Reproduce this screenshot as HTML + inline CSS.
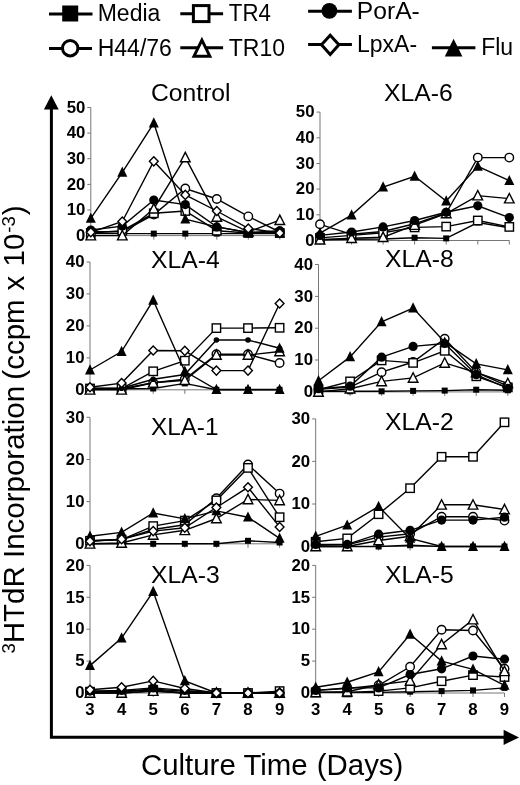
<!DOCTYPE html>
<html><head><meta charset="utf-8"><title>Chart</title>
<style>html,body{margin:0;padding:0;background:#fff}svg{display:block;will-change:transform;filter:grayscale(1)}</style></head>
<body>
<svg width="520" height="785" viewBox="0 0 520 785">
<rect width="520" height="785" fill="#fff"/>
<path d="M90.8 107.5V235.6H279.8" fill="none" stroke="#777" stroke-width="1"/>
<path d="M87.3 235.6H90.8" stroke="#777" stroke-width="1"/>
<text x="85.3" y="240.8" font-family="Liberation Sans, sans-serif" font-size="16.8" font-weight="bold" text-anchor="end" fill="#000">0</text>
<path d="M87.3 210.0H90.8" stroke="#777" stroke-width="1"/>
<text x="85.3" y="215.2" font-family="Liberation Sans, sans-serif" font-size="16.8" font-weight="bold" text-anchor="end" fill="#000">10</text>
<path d="M87.3 184.4H90.8" stroke="#777" stroke-width="1"/>
<text x="85.3" y="189.6" font-family="Liberation Sans, sans-serif" font-size="16.8" font-weight="bold" text-anchor="end" fill="#000">20</text>
<path d="M87.3 158.7H90.8" stroke="#777" stroke-width="1"/>
<text x="85.3" y="163.9" font-family="Liberation Sans, sans-serif" font-size="16.8" font-weight="bold" text-anchor="end" fill="#000">30</text>
<path d="M87.3 133.1H90.8" stroke="#777" stroke-width="1"/>
<text x="85.3" y="138.3" font-family="Liberation Sans, sans-serif" font-size="16.8" font-weight="bold" text-anchor="end" fill="#000">40</text>
<path d="M87.3 107.5H90.8" stroke="#777" stroke-width="1"/>
<text x="85.3" y="112.7" font-family="Liberation Sans, sans-serif" font-size="16.8" font-weight="bold" text-anchor="end" fill="#000">50</text>
<path d="M90.8 235.6v4" stroke="#777" stroke-width="1"/>
<path d="M122.3 235.6v4" stroke="#777" stroke-width="1"/>
<path d="M153.8 235.6v4" stroke="#777" stroke-width="1"/>
<path d="M185.3 235.6v4" stroke="#777" stroke-width="1"/>
<path d="M216.8 235.6v4" stroke="#777" stroke-width="1"/>
<path d="M248.3 235.6v4" stroke="#777" stroke-width="1"/>
<path d="M279.8 235.6v4" stroke="#777" stroke-width="1"/>
<text x="151" y="100.8" font-family="Liberation Sans, sans-serif" font-size="24.7" fill="#000">Control</text>
<polyline points="90.8,233.6 122.3,233.6 153.8,233.6 185.3,233.6 216.8,233.6 248.3,233.6 279.8,233.6" fill="none" stroke="#000" stroke-width="1.4"/>
<rect x="87.8" y="230.6" width="6.0" height="6.0" fill="#000"/>
<rect x="119.3" y="230.6" width="6.0" height="6.0" fill="#000"/>
<rect x="150.8" y="230.6" width="6.0" height="6.0" fill="#000"/>
<rect x="182.3" y="230.6" width="6.0" height="6.0" fill="#000"/>
<rect x="213.8" y="230.6" width="6.0" height="6.0" fill="#000"/>
<rect x="245.3" y="230.6" width="6.0" height="6.0" fill="#000"/>
<rect x="276.8" y="230.6" width="6.0" height="6.0" fill="#000"/>
<polyline points="90.8,231.8 122.3,231.8 153.8,214.6 185.3,188.5 216.8,199.0 248.3,216.4 279.8,232.0" fill="none" stroke="#000" stroke-width="1.4"/>
<circle cx="90.8" cy="231.8" r="4.25" fill="#fff" stroke="#000" stroke-width="1.4"/>
<circle cx="122.3" cy="231.8" r="4.25" fill="#fff" stroke="#000" stroke-width="1.4"/>
<circle cx="153.8" cy="214.6" r="4.25" fill="#fff" stroke="#000" stroke-width="1.4"/>
<circle cx="185.3" cy="188.5" r="4.25" fill="#fff" stroke="#000" stroke-width="1.4"/>
<circle cx="216.8" cy="199.0" r="4.25" fill="#fff" stroke="#000" stroke-width="1.4"/>
<circle cx="248.3" cy="216.4" r="4.25" fill="#fff" stroke="#000" stroke-width="1.4"/>
<circle cx="279.8" cy="232.0" r="4.25" fill="#fff" stroke="#000" stroke-width="1.4"/>
<polyline points="90.8,233.0 122.3,230.7 153.8,213.3 185.3,211.0 216.8,230.7 248.3,233.0 279.8,233.0" fill="none" stroke="#000" stroke-width="1.4"/>
<rect x="86.6" y="228.8" width="8.4" height="8.4" fill="#fff" stroke="#000" stroke-width="1.4"/>
<rect x="118.1" y="226.5" width="8.4" height="8.4" fill="#fff" stroke="#000" stroke-width="1.4"/>
<rect x="149.6" y="209.1" width="8.4" height="8.4" fill="#fff" stroke="#000" stroke-width="1.4"/>
<rect x="181.1" y="206.8" width="8.4" height="8.4" fill="#fff" stroke="#000" stroke-width="1.4"/>
<rect x="212.6" y="226.5" width="8.4" height="8.4" fill="#fff" stroke="#000" stroke-width="1.4"/>
<rect x="244.1" y="228.8" width="8.4" height="8.4" fill="#fff" stroke="#000" stroke-width="1.4"/>
<rect x="275.6" y="228.8" width="8.4" height="8.4" fill="#fff" stroke="#000" stroke-width="1.4"/>
<polyline points="90.8,235.6 122.3,235.6 153.8,208.7 185.3,157.5 216.8,216.9 248.3,231.8 279.8,220.2" fill="none" stroke="#000" stroke-width="1.4"/>
<path d="M90.8 230.5L95.6 239.9L86.0 239.9Z" fill="#fff" stroke="#000" stroke-width="1.4"/>
<path d="M122.3 230.5L127.1 239.9L117.5 239.9Z" fill="#fff" stroke="#000" stroke-width="1.4"/>
<path d="M153.8 203.6L158.6 213.0L149.0 213.0Z" fill="#fff" stroke="#000" stroke-width="1.4"/>
<path d="M185.3 152.4L190.1 161.8L180.5 161.8Z" fill="#fff" stroke="#000" stroke-width="1.4"/>
<path d="M216.8 211.8L221.6 221.2L212.0 221.2Z" fill="#fff" stroke="#000" stroke-width="1.4"/>
<path d="M248.3 226.7L253.1 236.1L243.5 236.1Z" fill="#fff" stroke="#000" stroke-width="1.4"/>
<path d="M279.8 215.1L284.6 224.5L275.0 224.5Z" fill="#fff" stroke="#000" stroke-width="1.4"/>
<polyline points="90.8,230.0 122.3,226.1 153.8,200.0 185.3,204.6 216.8,226.9 248.3,232.5 279.8,230.7" fill="none" stroke="#000" stroke-width="1.4"/>
<circle cx="90.8" cy="230.0" r="4.6" fill="#000"/>
<circle cx="122.3" cy="226.1" r="4.6" fill="#000"/>
<circle cx="153.8" cy="200.0" r="4.6" fill="#000"/>
<circle cx="185.3" cy="204.6" r="4.6" fill="#000"/>
<circle cx="216.8" cy="226.9" r="4.6" fill="#000"/>
<circle cx="248.3" cy="232.5" r="4.6" fill="#000"/>
<circle cx="279.8" cy="230.7" r="4.6" fill="#000"/>
<polyline points="90.8,218.4 122.3,172.3 153.8,123.1 185.3,219.2 216.8,226.9 248.3,232.5 279.8,233.0" fill="none" stroke="#000" stroke-width="1.4"/>
<path d="M90.8 212.6L95.8 222.8L85.8 222.8Z" fill="#000"/>
<path d="M122.3 166.5L127.3 176.7L117.3 176.7Z" fill="#000"/>
<path d="M153.8 117.3L158.8 127.5L148.8 127.5Z" fill="#000"/>
<path d="M185.3 213.4L190.3 223.6L180.3 223.6Z" fill="#000"/>
<path d="M216.8 221.1L221.8 231.3L211.8 231.3Z" fill="#000"/>
<path d="M248.3 226.7L253.3 236.9L243.3 236.9Z" fill="#000"/>
<path d="M279.8 227.2L284.8 237.4L274.8 237.4Z" fill="#000"/>
<polyline points="90.8,232.3 122.3,221.5 153.8,161.3 185.3,194.9 216.8,211.0 248.3,228.4 279.8,233.0" fill="none" stroke="#000" stroke-width="1.4"/>
<path d="M90.8 227.7L95.2 232.3L90.8 236.8L86.4 232.3Z" fill="#fff" stroke="#000" stroke-width="1.4"/>
<path d="M122.3 217.0L126.7 221.5L122.3 226.1L117.9 221.5Z" fill="#fff" stroke="#000" stroke-width="1.4"/>
<path d="M153.8 156.8L158.2 161.3L153.8 165.9L149.4 161.3Z" fill="#fff" stroke="#000" stroke-width="1.4"/>
<path d="M185.3 190.3L189.7 194.9L185.3 199.4L180.9 194.9Z" fill="#fff" stroke="#000" stroke-width="1.4"/>
<path d="M216.8 206.5L221.2 211.0L216.8 215.6L212.4 211.0Z" fill="#fff" stroke="#000" stroke-width="1.4"/>
<path d="M248.3 223.9L252.7 228.4L248.3 233.0L243.9 228.4Z" fill="#fff" stroke="#000" stroke-width="1.4"/>
<path d="M279.8 228.5L284.2 233.0L279.8 237.6L275.4 233.0Z" fill="#fff" stroke="#000" stroke-width="1.4"/>
<path d="M90.0 262.0V389.8H279.6" fill="none" stroke="#777" stroke-width="1"/>
<path d="M86.5 389.8H90.0" stroke="#777" stroke-width="1"/>
<text x="84.5" y="395.0" font-family="Liberation Sans, sans-serif" font-size="16.8" font-weight="bold" text-anchor="end" fill="#000">0</text>
<path d="M86.5 357.9H90.0" stroke="#777" stroke-width="1"/>
<text x="84.5" y="363.1" font-family="Liberation Sans, sans-serif" font-size="16.8" font-weight="bold" text-anchor="end" fill="#000">10</text>
<path d="M86.5 325.9H90.0" stroke="#777" stroke-width="1"/>
<text x="84.5" y="331.1" font-family="Liberation Sans, sans-serif" font-size="16.8" font-weight="bold" text-anchor="end" fill="#000">20</text>
<path d="M86.5 293.9H90.0" stroke="#777" stroke-width="1"/>
<text x="84.5" y="299.1" font-family="Liberation Sans, sans-serif" font-size="16.8" font-weight="bold" text-anchor="end" fill="#000">30</text>
<path d="M86.5 262.0H90.0" stroke="#777" stroke-width="1"/>
<text x="84.5" y="267.2" font-family="Liberation Sans, sans-serif" font-size="16.8" font-weight="bold" text-anchor="end" fill="#000">40</text>
<path d="M90.0 389.8v4" stroke="#777" stroke-width="1"/>
<path d="M121.6 389.8v4" stroke="#777" stroke-width="1"/>
<path d="M153.2 389.8v4" stroke="#777" stroke-width="1"/>
<path d="M184.8 389.8v4" stroke="#777" stroke-width="1"/>
<path d="M216.4 389.8v4" stroke="#777" stroke-width="1"/>
<path d="M248.0 389.8v4" stroke="#777" stroke-width="1"/>
<path d="M279.6 389.8v4" stroke="#777" stroke-width="1"/>
<text x="151" y="267.8" font-family="Liberation Sans, sans-serif" font-size="24.7" fill="#000">XLA-4</text>
<polyline points="90.0,388.8 121.6,388.8 153.2,388.5 184.8,383.4 216.4,389.8 248.0,389.8 279.6,389.8" fill="none" stroke="#000" stroke-width="1.4"/>
<rect x="87.0" y="385.8" width="6.0" height="6.0" fill="#000"/>
<rect x="118.6" y="385.8" width="6.0" height="6.0" fill="#000"/>
<rect x="150.2" y="385.5" width="6.0" height="6.0" fill="#000"/>
<rect x="181.8" y="380.4" width="6.0" height="6.0" fill="#000"/>
<rect x="213.4" y="386.8" width="6.0" height="6.0" fill="#000"/>
<rect x="245.0" y="386.8" width="6.0" height="6.0" fill="#000"/>
<rect x="276.6" y="386.8" width="6.0" height="6.0" fill="#000"/>
<polyline points="90.0,388.8 121.6,388.8 153.2,382.8 184.8,379.3 216.4,354.3 248.0,354.3 279.6,363.0" fill="none" stroke="#000" stroke-width="1.4"/>
<circle cx="90.0" cy="388.8" r="4.25" fill="#fff" stroke="#000" stroke-width="1.4"/>
<circle cx="121.6" cy="388.8" r="4.25" fill="#fff" stroke="#000" stroke-width="1.4"/>
<circle cx="153.2" cy="382.8" r="4.25" fill="#fff" stroke="#000" stroke-width="1.4"/>
<circle cx="184.8" cy="379.3" r="4.25" fill="#fff" stroke="#000" stroke-width="1.4"/>
<circle cx="216.4" cy="354.3" r="4.25" fill="#fff" stroke="#000" stroke-width="1.4"/>
<circle cx="248.0" cy="354.3" r="4.25" fill="#fff" stroke="#000" stroke-width="1.4"/>
<circle cx="279.6" cy="363.0" r="4.25" fill="#fff" stroke="#000" stroke-width="1.4"/>
<polyline points="90.0,388.5 121.6,388.5 153.2,371.3 184.8,360.7 216.4,328.1 248.0,328.1 279.6,327.8" fill="none" stroke="#000" stroke-width="1.4"/>
<rect x="85.8" y="384.3" width="8.4" height="8.4" fill="#fff" stroke="#000" stroke-width="1.4"/>
<rect x="117.4" y="384.3" width="8.4" height="8.4" fill="#fff" stroke="#000" stroke-width="1.4"/>
<rect x="149.0" y="367.1" width="8.4" height="8.4" fill="#fff" stroke="#000" stroke-width="1.4"/>
<rect x="180.6" y="356.5" width="8.4" height="8.4" fill="#fff" stroke="#000" stroke-width="1.4"/>
<rect x="212.2" y="323.9" width="8.4" height="8.4" fill="#fff" stroke="#000" stroke-width="1.4"/>
<rect x="243.8" y="323.9" width="8.4" height="8.4" fill="#fff" stroke="#000" stroke-width="1.4"/>
<rect x="275.4" y="323.6" width="8.4" height="8.4" fill="#fff" stroke="#000" stroke-width="1.4"/>
<polyline points="90.0,389.8 121.6,389.8 153.2,382.8 184.8,380.2 216.4,355.0 248.0,355.0 279.6,351.5" fill="none" stroke="#000" stroke-width="1.4"/>
<path d="M90.0 384.7L94.8 394.1L85.2 394.1Z" fill="#fff" stroke="#000" stroke-width="1.4"/>
<path d="M121.6 384.7L126.4 394.1L116.8 394.1Z" fill="#fff" stroke="#000" stroke-width="1.4"/>
<path d="M153.2 377.7L158.0 387.1L148.4 387.1Z" fill="#fff" stroke="#000" stroke-width="1.4"/>
<path d="M184.8 375.1L189.6 384.5L180.0 384.5Z" fill="#fff" stroke="#000" stroke-width="1.4"/>
<path d="M216.4 349.9L221.2 359.3L211.6 359.3Z" fill="#fff" stroke="#000" stroke-width="1.4"/>
<path d="M248.0 349.9L252.8 359.3L243.2 359.3Z" fill="#fff" stroke="#000" stroke-width="1.4"/>
<path d="M279.6 346.4L284.4 355.8L274.8 355.8Z" fill="#fff" stroke="#000" stroke-width="1.4"/>
<polyline points="90.0,388.2 121.6,388.2 153.2,379.3 184.8,374.5 216.4,340.0 248.0,340.0 279.6,348.3" fill="none" stroke="#000" stroke-width="1.4"/>
<circle cx="90.0" cy="388.2" r="2.8" fill="#000"/>
<circle cx="121.6" cy="388.2" r="2.8" fill="#000"/>
<circle cx="153.2" cy="379.3" r="2.8" fill="#000"/>
<circle cx="184.8" cy="374.5" r="2.8" fill="#000"/>
<circle cx="216.4" cy="340.0" r="2.8" fill="#000"/>
<circle cx="248.0" cy="340.0" r="2.8" fill="#000"/>
<circle cx="279.6" cy="348.3" r="2.8" fill="#000"/>
<polyline points="90.0,370.0 121.6,351.5 153.2,300.3 184.8,371.3 216.4,389.5 248.0,389.5 279.6,389.5" fill="none" stroke="#000" stroke-width="1.4"/>
<path d="M90.0 364.2L95.0 374.4L85.0 374.4Z" fill="#000"/>
<path d="M121.6 345.7L126.6 355.9L116.6 355.9Z" fill="#000"/>
<path d="M153.2 294.5L158.2 304.7L148.2 304.7Z" fill="#000"/>
<path d="M184.8 365.5L189.8 375.7L179.8 375.7Z" fill="#000"/>
<path d="M216.4 383.7L221.4 393.9L211.4 393.9Z" fill="#000"/>
<path d="M248.0 383.7L253.0 393.9L243.0 393.9Z" fill="#000"/>
<path d="M279.6 383.7L284.6 393.9L274.6 393.9Z" fill="#000"/>
<polyline points="90.0,387.2 121.6,383.1 153.2,350.5 184.8,350.8 216.4,370.6 248.0,370.6 279.6,303.5" fill="none" stroke="#000" stroke-width="1.4"/>
<path d="M90.0 382.7L94.4 387.2L90.0 391.8L85.6 387.2Z" fill="#fff" stroke="#000" stroke-width="1.4"/>
<path d="M121.6 378.5L126.0 383.1L121.6 387.6L117.2 383.1Z" fill="#fff" stroke="#000" stroke-width="1.4"/>
<path d="M153.2 346.0L157.6 350.5L153.2 355.1L148.8 350.5Z" fill="#fff" stroke="#000" stroke-width="1.4"/>
<path d="M184.8 346.3L189.2 350.8L184.8 355.4L180.4 350.8Z" fill="#fff" stroke="#000" stroke-width="1.4"/>
<path d="M216.4 366.1L220.8 370.6L216.4 375.2L212.0 370.6Z" fill="#fff" stroke="#000" stroke-width="1.4"/>
<path d="M248.0 366.1L252.4 370.6L248.0 375.2L243.6 370.6Z" fill="#fff" stroke="#000" stroke-width="1.4"/>
<path d="M279.6 299.0L284.0 303.5L279.6 308.1L275.2 303.5Z" fill="#fff" stroke="#000" stroke-width="1.4"/>
<path d="M279.6 342.5L284.6 352.7L274.6 352.7Z" fill="#000"/>
<path d="M90.0 417.3V543.8H279.6" fill="none" stroke="#777" stroke-width="1"/>
<path d="M86.5 543.8H90.0" stroke="#777" stroke-width="1"/>
<text x="84.5" y="549.0" font-family="Liberation Sans, sans-serif" font-size="16.8" font-weight="bold" text-anchor="end" fill="#000">0</text>
<path d="M86.5 501.6H90.0" stroke="#777" stroke-width="1"/>
<text x="84.5" y="506.8" font-family="Liberation Sans, sans-serif" font-size="16.8" font-weight="bold" text-anchor="end" fill="#000">10</text>
<path d="M86.5 459.5H90.0" stroke="#777" stroke-width="1"/>
<text x="84.5" y="464.7" font-family="Liberation Sans, sans-serif" font-size="16.8" font-weight="bold" text-anchor="end" fill="#000">20</text>
<path d="M86.5 417.3H90.0" stroke="#777" stroke-width="1"/>
<text x="84.5" y="422.5" font-family="Liberation Sans, sans-serif" font-size="16.8" font-weight="bold" text-anchor="end" fill="#000">30</text>
<path d="M90.0 543.8v4" stroke="#777" stroke-width="1"/>
<path d="M121.6 543.8v4" stroke="#777" stroke-width="1"/>
<path d="M153.2 543.8v4" stroke="#777" stroke-width="1"/>
<path d="M184.8 543.8v4" stroke="#777" stroke-width="1"/>
<path d="M216.4 543.8v4" stroke="#777" stroke-width="1"/>
<path d="M248.0 543.8v4" stroke="#777" stroke-width="1"/>
<path d="M279.6 543.8v4" stroke="#777" stroke-width="1"/>
<text x="151" y="435.3" font-family="Liberation Sans, sans-serif" font-size="24.7" textLength="67.4" lengthAdjust="spacingAndGlyphs" fill="#000">XLA-1</text>
<polyline points="90.0,543.8 121.6,543.8 153.2,543.8 184.8,543.8 216.4,543.8 248.0,540.8 279.6,542.5" fill="none" stroke="#000" stroke-width="1.4"/>
<rect x="87.0" y="540.8" width="6.0" height="6.0" fill="#000"/>
<rect x="118.6" y="540.8" width="6.0" height="6.0" fill="#000"/>
<rect x="150.2" y="540.8" width="6.0" height="6.0" fill="#000"/>
<rect x="181.8" y="540.8" width="6.0" height="6.0" fill="#000"/>
<rect x="213.4" y="540.8" width="6.0" height="6.0" fill="#000"/>
<rect x="245.0" y="537.8" width="6.0" height="6.0" fill="#000"/>
<rect x="276.6" y="539.5" width="6.0" height="6.0" fill="#000"/>
<polyline points="90.0,540.8 121.6,539.6 153.2,529.5 184.8,524.8 216.4,498.3 248.0,464.5 279.6,493.6" fill="none" stroke="#000" stroke-width="1.4"/>
<circle cx="90.0" cy="540.8" r="4.25" fill="#fff" stroke="#000" stroke-width="1.4"/>
<circle cx="121.6" cy="539.6" r="4.25" fill="#fff" stroke="#000" stroke-width="1.4"/>
<circle cx="153.2" cy="529.5" r="4.25" fill="#fff" stroke="#000" stroke-width="1.4"/>
<circle cx="184.8" cy="524.8" r="4.25" fill="#fff" stroke="#000" stroke-width="1.4"/>
<circle cx="216.4" cy="498.3" r="4.25" fill="#fff" stroke="#000" stroke-width="1.4"/>
<circle cx="248.0" cy="464.5" r="4.25" fill="#fff" stroke="#000" stroke-width="1.4"/>
<circle cx="279.6" cy="493.6" r="4.25" fill="#fff" stroke="#000" stroke-width="1.4"/>
<polyline points="90.0,540.8 121.6,539.6 153.2,526.1 184.8,520.6 216.4,500.4 248.0,467.9 279.6,517.2" fill="none" stroke="#000" stroke-width="1.4"/>
<rect x="85.8" y="536.6" width="8.4" height="8.4" fill="#fff" stroke="#000" stroke-width="1.4"/>
<rect x="117.4" y="535.4" width="8.4" height="8.4" fill="#fff" stroke="#000" stroke-width="1.4"/>
<rect x="149.0" y="521.9" width="8.4" height="8.4" fill="#fff" stroke="#000" stroke-width="1.4"/>
<rect x="180.6" y="516.4" width="8.4" height="8.4" fill="#fff" stroke="#000" stroke-width="1.4"/>
<rect x="212.2" y="496.2" width="8.4" height="8.4" fill="#fff" stroke="#000" stroke-width="1.4"/>
<rect x="243.8" y="463.7" width="8.4" height="8.4" fill="#fff" stroke="#000" stroke-width="1.4"/>
<rect x="275.4" y="513.0" width="8.4" height="8.4" fill="#fff" stroke="#000" stroke-width="1.4"/>
<polyline points="90.0,543.8 121.6,543.0 153.2,534.9 184.8,530.3 216.4,518.5 248.0,499.5 279.6,500.4" fill="none" stroke="#000" stroke-width="1.4"/>
<path d="M90.0 538.7L94.8 548.1L85.2 548.1Z" fill="#fff" stroke="#000" stroke-width="1.4"/>
<path d="M121.6 537.9L126.4 547.3L116.8 547.3Z" fill="#fff" stroke="#000" stroke-width="1.4"/>
<path d="M153.2 529.8L158.0 539.2L148.4 539.2Z" fill="#fff" stroke="#000" stroke-width="1.4"/>
<path d="M184.8 525.2L189.6 534.6L180.0 534.6Z" fill="#fff" stroke="#000" stroke-width="1.4"/>
<path d="M216.4 513.4L221.2 522.8L211.6 522.8Z" fill="#fff" stroke="#000" stroke-width="1.4"/>
<path d="M248.0 494.4L252.8 503.8L243.2 503.8Z" fill="#fff" stroke="#000" stroke-width="1.4"/>
<path d="M279.6 495.3L284.4 504.7L274.8 504.7Z" fill="#fff" stroke="#000" stroke-width="1.4"/>
<polyline points="90.0,536.2 121.6,532.4 153.2,513.0 184.8,518.9 216.4,510.9 248.0,517.2 279.6,538.3" fill="none" stroke="#000" stroke-width="1.4"/>
<path d="M90.0 530.4L95.0 540.6L85.0 540.6Z" fill="#000"/>
<path d="M121.6 526.6L126.6 536.8L116.6 536.8Z" fill="#000"/>
<path d="M153.2 507.2L158.2 517.4L148.2 517.4Z" fill="#000"/>
<path d="M184.8 513.1L189.8 523.3L179.8 523.3Z" fill="#000"/>
<path d="M216.4 505.1L221.4 515.3L211.4 515.3Z" fill="#000"/>
<path d="M248.0 511.4L253.0 521.6L243.0 521.6Z" fill="#000"/>
<path d="M279.6 532.5L284.6 542.7L274.6 542.7Z" fill="#000"/>
<polyline points="90.0,541.3 121.6,539.2 153.2,531.1 184.8,527.8 216.4,507.5 248.0,487.3 279.6,526.9" fill="none" stroke="#000" stroke-width="1.4"/>
<path d="M90.0 536.7L94.4 541.3L90.0 545.8L85.6 541.3Z" fill="#fff" stroke="#000" stroke-width="1.4"/>
<path d="M121.6 534.6L126.0 539.2L121.6 543.7L117.2 539.2Z" fill="#fff" stroke="#000" stroke-width="1.4"/>
<path d="M153.2 526.6L157.6 531.1L153.2 535.7L148.8 531.1Z" fill="#fff" stroke="#000" stroke-width="1.4"/>
<path d="M184.8 523.2L189.2 527.8L184.8 532.3L180.4 527.8Z" fill="#fff" stroke="#000" stroke-width="1.4"/>
<path d="M216.4 503.0L220.8 507.5L216.4 512.1L212.0 507.5Z" fill="#fff" stroke="#000" stroke-width="1.4"/>
<path d="M248.0 482.7L252.4 487.3L248.0 491.8L243.6 487.3Z" fill="#fff" stroke="#000" stroke-width="1.4"/>
<path d="M279.6 522.4L284.0 526.9L279.6 531.5L275.2 526.9Z" fill="#fff" stroke="#000" stroke-width="1.4"/>
<path d="M90.0 565.4V693.0H279.6" fill="none" stroke="#777" stroke-width="1"/>
<path d="M86.5 693.0H90.0" stroke="#777" stroke-width="1"/>
<text x="84.5" y="698.2" font-family="Liberation Sans, sans-serif" font-size="16.8" font-weight="bold" text-anchor="end" fill="#000">0</text>
<path d="M86.5 661.1H90.0" stroke="#777" stroke-width="1"/>
<text x="84.5" y="666.3" font-family="Liberation Sans, sans-serif" font-size="16.8" font-weight="bold" text-anchor="end" fill="#000">5</text>
<path d="M86.5 629.2H90.0" stroke="#777" stroke-width="1"/>
<text x="84.5" y="634.4" font-family="Liberation Sans, sans-serif" font-size="16.8" font-weight="bold" text-anchor="end" fill="#000">10</text>
<path d="M86.5 597.3H90.0" stroke="#777" stroke-width="1"/>
<text x="84.5" y="602.5" font-family="Liberation Sans, sans-serif" font-size="16.8" font-weight="bold" text-anchor="end" fill="#000">15</text>
<path d="M86.5 565.4H90.0" stroke="#777" stroke-width="1"/>
<text x="84.5" y="570.6" font-family="Liberation Sans, sans-serif" font-size="16.8" font-weight="bold" text-anchor="end" fill="#000">20</text>
<path d="M90.0 693.0v4" stroke="#777" stroke-width="1"/>
<text x="90.0" y="715" font-family="Liberation Sans, sans-serif" font-size="16.8" font-weight="bold" text-anchor="middle" fill="#000">3</text>
<path d="M121.6 693.0v4" stroke="#777" stroke-width="1"/>
<text x="121.6" y="715" font-family="Liberation Sans, sans-serif" font-size="16.8" font-weight="bold" text-anchor="middle" fill="#000">4</text>
<path d="M153.2 693.0v4" stroke="#777" stroke-width="1"/>
<text x="153.2" y="715" font-family="Liberation Sans, sans-serif" font-size="16.8" font-weight="bold" text-anchor="middle" fill="#000">5</text>
<path d="M184.8 693.0v4" stroke="#777" stroke-width="1"/>
<text x="184.8" y="715" font-family="Liberation Sans, sans-serif" font-size="16.8" font-weight="bold" text-anchor="middle" fill="#000">6</text>
<path d="M216.4 693.0v4" stroke="#777" stroke-width="1"/>
<text x="216.4" y="715" font-family="Liberation Sans, sans-serif" font-size="16.8" font-weight="bold" text-anchor="middle" fill="#000">7</text>
<path d="M248.0 693.0v4" stroke="#777" stroke-width="1"/>
<text x="248.0" y="715" font-family="Liberation Sans, sans-serif" font-size="16.8" font-weight="bold" text-anchor="middle" fill="#000">8</text>
<path d="M279.6 693.0v4" stroke="#777" stroke-width="1"/>
<text x="279.6" y="715" font-family="Liberation Sans, sans-serif" font-size="16.8" font-weight="bold" text-anchor="middle" fill="#000">9</text>
<text x="151" y="582.8" font-family="Liberation Sans, sans-serif" font-size="24.7" fill="#000">XLA-3</text>
<polyline points="90.0,693.0 121.6,693.0 153.2,691.1 184.8,693.0 216.4,693.0 248.0,693.0 279.6,693.0" fill="none" stroke="#000" stroke-width="1.4"/>
<rect x="87.0" y="690.0" width="6.0" height="6.0" fill="#000"/>
<rect x="118.6" y="690.0" width="6.0" height="6.0" fill="#000"/>
<rect x="150.2" y="688.1" width="6.0" height="6.0" fill="#000"/>
<rect x="181.8" y="690.0" width="6.0" height="6.0" fill="#000"/>
<rect x="213.4" y="690.0" width="6.0" height="6.0" fill="#000"/>
<rect x="245.0" y="690.0" width="6.0" height="6.0" fill="#000"/>
<rect x="276.6" y="690.0" width="6.0" height="6.0" fill="#000"/>
<polyline points="90.0,691.1 121.6,691.1 153.2,689.2 184.8,691.1 216.4,693.0 248.0,693.0 279.6,693.0" fill="none" stroke="#000" stroke-width="1.4"/>
<circle cx="90.0" cy="691.1" r="4.25" fill="#fff" stroke="#000" stroke-width="1.4"/>
<circle cx="121.6" cy="691.1" r="4.25" fill="#fff" stroke="#000" stroke-width="1.4"/>
<circle cx="153.2" cy="689.2" r="4.25" fill="#fff" stroke="#000" stroke-width="1.4"/>
<circle cx="184.8" cy="691.1" r="4.25" fill="#fff" stroke="#000" stroke-width="1.4"/>
<circle cx="216.4" cy="693.0" r="4.25" fill="#fff" stroke="#000" stroke-width="1.4"/>
<circle cx="248.0" cy="693.0" r="4.25" fill="#fff" stroke="#000" stroke-width="1.4"/>
<circle cx="279.6" cy="693.0" r="4.25" fill="#fff" stroke="#000" stroke-width="1.4"/>
<polyline points="90.0,691.7 121.6,691.7 153.2,689.8 184.8,693.0 216.4,693.0 248.0,693.0 279.6,691.1" fill="none" stroke="#000" stroke-width="1.4"/>
<rect x="85.8" y="687.5" width="8.4" height="8.4" fill="#fff" stroke="#000" stroke-width="1.4"/>
<rect x="117.4" y="687.5" width="8.4" height="8.4" fill="#fff" stroke="#000" stroke-width="1.4"/>
<rect x="149.0" y="685.6" width="8.4" height="8.4" fill="#fff" stroke="#000" stroke-width="1.4"/>
<rect x="180.6" y="688.8" width="8.4" height="8.4" fill="#fff" stroke="#000" stroke-width="1.4"/>
<rect x="212.2" y="688.8" width="8.4" height="8.4" fill="#fff" stroke="#000" stroke-width="1.4"/>
<rect x="243.8" y="688.8" width="8.4" height="8.4" fill="#fff" stroke="#000" stroke-width="1.4"/>
<rect x="275.4" y="686.9" width="8.4" height="8.4" fill="#fff" stroke="#000" stroke-width="1.4"/>
<polyline points="90.0,693.0 121.6,693.0 153.2,691.1 184.8,693.0 216.4,693.0 248.0,693.0 279.6,693.0" fill="none" stroke="#000" stroke-width="1.4"/>
<path d="M90.0 687.9L94.8 697.3L85.2 697.3Z" fill="#fff" stroke="#000" stroke-width="1.4"/>
<path d="M121.6 687.9L126.4 697.3L116.8 697.3Z" fill="#fff" stroke="#000" stroke-width="1.4"/>
<path d="M153.2 686.0L158.0 695.4L148.4 695.4Z" fill="#fff" stroke="#000" stroke-width="1.4"/>
<path d="M184.8 687.9L189.6 697.3L180.0 697.3Z" fill="#fff" stroke="#000" stroke-width="1.4"/>
<path d="M216.4 687.9L221.2 697.3L211.6 697.3Z" fill="#fff" stroke="#000" stroke-width="1.4"/>
<path d="M248.0 687.9L252.8 697.3L243.2 697.3Z" fill="#fff" stroke="#000" stroke-width="1.4"/>
<path d="M279.6 687.9L284.4 697.3L274.8 697.3Z" fill="#fff" stroke="#000" stroke-width="1.4"/>
<polyline points="90.0,691.1 121.6,690.4 153.2,687.9 184.8,690.4 216.4,693.0 248.0,693.0 279.6,693.0" fill="none" stroke="#000" stroke-width="1.4"/>
<circle cx="90.0" cy="691.1" r="4.6" fill="#000"/>
<circle cx="121.6" cy="690.4" r="4.6" fill="#000"/>
<circle cx="153.2" cy="687.9" r="4.6" fill="#000"/>
<circle cx="184.8" cy="690.4" r="4.6" fill="#000"/>
<circle cx="216.4" cy="693.0" r="4.6" fill="#000"/>
<circle cx="248.0" cy="693.0" r="4.6" fill="#000"/>
<circle cx="279.6" cy="693.0" r="4.6" fill="#000"/>
<polyline points="90.0,665.6 121.6,638.1 153.2,591.6 184.8,680.9 216.4,693.0 248.0,693.0 279.6,693.0" fill="none" stroke="#000" stroke-width="1.4"/>
<path d="M90.0 659.8L95.0 670.0L85.0 670.0Z" fill="#000"/>
<path d="M121.6 632.3L126.6 642.5L116.6 642.5Z" fill="#000"/>
<path d="M153.2 585.8L158.2 596.0L148.2 596.0Z" fill="#000"/>
<path d="M184.8 675.1L189.8 685.3L179.8 685.3Z" fill="#000"/>
<path d="M216.4 687.2L221.4 697.4L211.4 697.4Z" fill="#000"/>
<path d="M248.0 687.2L253.0 697.4L243.0 697.4Z" fill="#000"/>
<path d="M279.6 687.2L284.6 697.4L274.6 697.4Z" fill="#000"/>
<polyline points="90.0,689.8 121.6,687.3 153.2,680.9 184.8,688.5 216.4,693.0 248.0,693.0 279.6,693.0" fill="none" stroke="#000" stroke-width="1.4"/>
<path d="M90.0 685.3L94.4 689.8L90.0 694.4L85.6 689.8Z" fill="#fff" stroke="#000" stroke-width="1.4"/>
<path d="M121.6 682.7L126.0 687.3L121.6 691.8L117.2 687.3Z" fill="#fff" stroke="#000" stroke-width="1.4"/>
<path d="M153.2 676.3L157.6 680.9L153.2 685.4L148.8 680.9Z" fill="#fff" stroke="#000" stroke-width="1.4"/>
<path d="M184.8 684.0L189.2 688.5L184.8 693.1L180.4 688.5Z" fill="#fff" stroke="#000" stroke-width="1.4"/>
<path d="M216.4 688.5L220.8 693.0L216.4 697.5L212.0 693.0Z" fill="#fff" stroke="#000" stroke-width="1.4"/>
<path d="M248.0 688.5L252.4 693.0L248.0 697.5L243.6 693.0Z" fill="#fff" stroke="#000" stroke-width="1.4"/>
<path d="M279.6 688.5L284.0 693.0L279.6 697.5L275.2 693.0Z" fill="#fff" stroke="#000" stroke-width="1.4"/>
<path d="M320.0 112.1V240.5H509.3" fill="none" stroke="#777" stroke-width="1"/>
<path d="M316.5 240.5H320.0" stroke="#777" stroke-width="1"/>
<text x="314.5" y="245.7" font-family="Liberation Sans, sans-serif" font-size="16.8" font-weight="bold" text-anchor="end" fill="#000">0</text>
<path d="M316.5 214.8H320.0" stroke="#777" stroke-width="1"/>
<text x="314.5" y="220.0" font-family="Liberation Sans, sans-serif" font-size="16.8" font-weight="bold" text-anchor="end" fill="#000">10</text>
<path d="M316.5 189.1H320.0" stroke="#777" stroke-width="1"/>
<text x="314.5" y="194.3" font-family="Liberation Sans, sans-serif" font-size="16.8" font-weight="bold" text-anchor="end" fill="#000">20</text>
<path d="M316.5 163.5H320.0" stroke="#777" stroke-width="1"/>
<text x="314.5" y="168.7" font-family="Liberation Sans, sans-serif" font-size="16.8" font-weight="bold" text-anchor="end" fill="#000">30</text>
<path d="M316.5 137.8H320.0" stroke="#777" stroke-width="1"/>
<text x="314.5" y="143.0" font-family="Liberation Sans, sans-serif" font-size="16.8" font-weight="bold" text-anchor="end" fill="#000">40</text>
<path d="M316.5 112.1H320.0" stroke="#777" stroke-width="1"/>
<text x="314.5" y="117.3" font-family="Liberation Sans, sans-serif" font-size="16.8" font-weight="bold" text-anchor="end" fill="#000">50</text>
<path d="M320.0 240.5v4" stroke="#777" stroke-width="1"/>
<path d="M351.6 240.5v4" stroke="#777" stroke-width="1"/>
<path d="M383.1 240.5v4" stroke="#777" stroke-width="1"/>
<path d="M414.6 240.5v4" stroke="#777" stroke-width="1"/>
<path d="M446.2 240.5v4" stroke="#777" stroke-width="1"/>
<path d="M477.8 240.5v4" stroke="#777" stroke-width="1"/>
<path d="M509.3 240.5v4" stroke="#777" stroke-width="1"/>
<text x="384" y="100.8" font-family="Liberation Sans, sans-serif" font-size="24.7" fill="#000">XLA-6</text>
<polyline points="320.0,239.7 351.6,239.2 383.1,239.0 414.6,237.7 446.2,238.4 477.8,222.5 509.3,227.7" fill="none" stroke="#000" stroke-width="1.4"/>
<rect x="317.0" y="236.7" width="6.0" height="6.0" fill="#000"/>
<rect x="348.6" y="236.2" width="6.0" height="6.0" fill="#000"/>
<rect x="380.1" y="236.0" width="6.0" height="6.0" fill="#000"/>
<rect x="411.6" y="234.7" width="6.0" height="6.0" fill="#000"/>
<rect x="443.2" y="235.4" width="6.0" height="6.0" fill="#000"/>
<rect x="474.8" y="219.5" width="6.0" height="6.0" fill="#000"/>
<rect x="506.3" y="224.7" width="6.0" height="6.0" fill="#000"/>
<polyline points="320.0,224.3 351.6,234.3 383.1,231.5 414.6,223.8 446.2,213.0 477.8,157.6 509.3,157.6" fill="none" stroke="#000" stroke-width="1.4"/>
<circle cx="320.0" cy="224.3" r="4.25" fill="#fff" stroke="#000" stroke-width="1.4"/>
<circle cx="351.6" cy="234.3" r="4.25" fill="#fff" stroke="#000" stroke-width="1.4"/>
<circle cx="383.1" cy="231.5" r="4.25" fill="#fff" stroke="#000" stroke-width="1.4"/>
<circle cx="414.6" cy="223.8" r="4.25" fill="#fff" stroke="#000" stroke-width="1.4"/>
<circle cx="446.2" cy="213.0" r="4.25" fill="#fff" stroke="#000" stroke-width="1.4"/>
<circle cx="477.8" cy="157.6" r="4.25" fill="#fff" stroke="#000" stroke-width="1.4"/>
<circle cx="509.3" cy="157.6" r="4.25" fill="#fff" stroke="#000" stroke-width="1.4"/>
<polyline points="320.0,237.9 351.6,235.4 383.1,232.8 414.6,227.4 446.2,226.6 477.8,220.5 509.3,226.9" fill="none" stroke="#000" stroke-width="1.4"/>
<rect x="315.8" y="233.7" width="8.4" height="8.4" fill="#fff" stroke="#000" stroke-width="1.4"/>
<rect x="347.4" y="231.2" width="8.4" height="8.4" fill="#fff" stroke="#000" stroke-width="1.4"/>
<rect x="378.9" y="228.6" width="8.4" height="8.4" fill="#fff" stroke="#000" stroke-width="1.4"/>
<rect x="410.4" y="223.2" width="8.4" height="8.4" fill="#fff" stroke="#000" stroke-width="1.4"/>
<rect x="442.0" y="222.4" width="8.4" height="8.4" fill="#fff" stroke="#000" stroke-width="1.4"/>
<rect x="473.6" y="216.3" width="8.4" height="8.4" fill="#fff" stroke="#000" stroke-width="1.4"/>
<rect x="505.1" y="222.7" width="8.4" height="8.4" fill="#fff" stroke="#000" stroke-width="1.4"/>
<polyline points="320.0,239.7 351.6,238.2 383.1,237.2 414.6,225.1 446.2,213.5 477.8,195.6 509.3,198.6" fill="none" stroke="#000" stroke-width="1.4"/>
<path d="M320.0 234.6L324.8 244.0L315.2 244.0Z" fill="#fff" stroke="#000" stroke-width="1.4"/>
<path d="M351.6 233.1L356.4 242.5L346.8 242.5Z" fill="#fff" stroke="#000" stroke-width="1.4"/>
<path d="M383.1 232.1L387.9 241.5L378.3 241.5Z" fill="#fff" stroke="#000" stroke-width="1.4"/>
<path d="M414.6 220.0L419.4 229.4L409.8 229.4Z" fill="#fff" stroke="#000" stroke-width="1.4"/>
<path d="M446.2 208.4L451.0 217.8L441.4 217.8Z" fill="#fff" stroke="#000" stroke-width="1.4"/>
<path d="M477.8 190.5L482.6 199.9L472.9 199.9Z" fill="#fff" stroke="#000" stroke-width="1.4"/>
<path d="M509.3 193.5L514.1 202.9L504.5 202.9Z" fill="#fff" stroke="#000" stroke-width="1.4"/>
<polyline points="320.0,235.4 351.6,232.0 383.1,226.9 414.6,220.5 446.2,212.3 477.8,205.8 509.3,217.6" fill="none" stroke="#000" stroke-width="1.4"/>
<circle cx="320.0" cy="235.4" r="4.6" fill="#000"/>
<circle cx="351.6" cy="232.0" r="4.6" fill="#000"/>
<circle cx="383.1" cy="226.9" r="4.6" fill="#000"/>
<circle cx="414.6" cy="220.5" r="4.6" fill="#000"/>
<circle cx="446.2" cy="212.3" r="4.6" fill="#000"/>
<circle cx="477.8" cy="205.8" r="4.6" fill="#000"/>
<circle cx="509.3" cy="217.6" r="4.6" fill="#000"/>
<polyline points="320.0,233.1 351.6,215.1 383.1,187.1 414.6,176.3 446.2,201.0 477.8,166.3 509.3,180.7" fill="none" stroke="#000" stroke-width="1.4"/>
<path d="M320.0 227.3L325.0 237.5L315.0 237.5Z" fill="#000"/>
<path d="M351.6 209.3L356.6 219.5L346.6 219.5Z" fill="#000"/>
<path d="M383.1 181.3L388.1 191.5L378.1 191.5Z" fill="#000"/>
<path d="M414.6 170.5L419.6 180.7L409.6 180.7Z" fill="#000"/>
<path d="M446.2 195.2L451.2 205.4L441.2 205.4Z" fill="#000"/>
<path d="M477.8 160.5L482.8 170.7L472.8 170.7Z" fill="#000"/>
<path d="M509.3 174.9L514.3 185.1L504.3 185.1Z" fill="#000"/>
<path d="M318.5 264.5V391.9H507.8" fill="none" stroke="#777" stroke-width="1"/>
<path d="M315.0 391.9H318.5" stroke="#777" stroke-width="1"/>
<text x="313.0" y="397.1" font-family="Liberation Sans, sans-serif" font-size="16.8" font-weight="bold" text-anchor="end" fill="#000">0</text>
<path d="M315.0 360.0H318.5" stroke="#777" stroke-width="1"/>
<text x="313.0" y="365.2" font-family="Liberation Sans, sans-serif" font-size="16.8" font-weight="bold" text-anchor="end" fill="#000">10</text>
<path d="M315.0 328.2H318.5" stroke="#777" stroke-width="1"/>
<text x="313.0" y="333.4" font-family="Liberation Sans, sans-serif" font-size="16.8" font-weight="bold" text-anchor="end" fill="#000">20</text>
<path d="M315.0 296.4H318.5" stroke="#777" stroke-width="1"/>
<text x="313.0" y="301.6" font-family="Liberation Sans, sans-serif" font-size="16.8" font-weight="bold" text-anchor="end" fill="#000">30</text>
<path d="M315.0 264.5H318.5" stroke="#777" stroke-width="1"/>
<text x="313.0" y="269.7" font-family="Liberation Sans, sans-serif" font-size="16.8" font-weight="bold" text-anchor="end" fill="#000">40</text>
<path d="M318.5 391.9v4" stroke="#777" stroke-width="1"/>
<path d="M350.1 391.9v4" stroke="#777" stroke-width="1"/>
<path d="M381.6 391.9v4" stroke="#777" stroke-width="1"/>
<path d="M413.1 391.9v4" stroke="#777" stroke-width="1"/>
<path d="M444.7 391.9v4" stroke="#777" stroke-width="1"/>
<path d="M476.2 391.9v4" stroke="#777" stroke-width="1"/>
<path d="M507.8 391.9v4" stroke="#777" stroke-width="1"/>
<text x="385" y="267.3" font-family="Liberation Sans, sans-serif" font-size="24.7" fill="#000">XLA-8</text>
<polyline points="318.5,391.3 350.1,391.3 381.6,391.3 413.1,390.9 444.7,390.6 476.2,389.7 507.8,390.3" fill="none" stroke="#000" stroke-width="1.4"/>
<rect x="315.5" y="388.3" width="6.0" height="6.0" fill="#000"/>
<rect x="347.1" y="388.3" width="6.0" height="6.0" fill="#000"/>
<rect x="378.6" y="388.3" width="6.0" height="6.0" fill="#000"/>
<rect x="410.1" y="387.9" width="6.0" height="6.0" fill="#000"/>
<rect x="441.7" y="387.6" width="6.0" height="6.0" fill="#000"/>
<rect x="473.2" y="386.7" width="6.0" height="6.0" fill="#000"/>
<rect x="504.8" y="387.3" width="6.0" height="6.0" fill="#000"/>
<polyline points="318.5,389.4 350.1,387.1 381.6,372.2 413.1,362.0 444.7,338.7 476.2,372.2 507.8,386.2" fill="none" stroke="#000" stroke-width="1.4"/>
<circle cx="318.5" cy="389.4" r="4.25" fill="#fff" stroke="#000" stroke-width="1.4"/>
<circle cx="350.1" cy="387.1" r="4.25" fill="#fff" stroke="#000" stroke-width="1.4"/>
<circle cx="381.6" cy="372.2" r="4.25" fill="#fff" stroke="#000" stroke-width="1.4"/>
<circle cx="413.1" cy="362.0" r="4.25" fill="#fff" stroke="#000" stroke-width="1.4"/>
<circle cx="444.7" cy="338.7" r="4.25" fill="#fff" stroke="#000" stroke-width="1.4"/>
<circle cx="476.2" cy="372.2" r="4.25" fill="#fff" stroke="#000" stroke-width="1.4"/>
<circle cx="507.8" cy="386.2" r="4.25" fill="#fff" stroke="#000" stroke-width="1.4"/>
<polyline points="318.5,389.7 350.1,381.4 381.6,360.4 413.1,362.9 444.7,350.8 476.2,376.3 507.8,387.4" fill="none" stroke="#000" stroke-width="1.4"/>
<rect x="314.3" y="385.5" width="8.4" height="8.4" fill="#fff" stroke="#000" stroke-width="1.4"/>
<rect x="345.9" y="377.2" width="8.4" height="8.4" fill="#fff" stroke="#000" stroke-width="1.4"/>
<rect x="377.4" y="356.2" width="8.4" height="8.4" fill="#fff" stroke="#000" stroke-width="1.4"/>
<rect x="408.9" y="358.7" width="8.4" height="8.4" fill="#fff" stroke="#000" stroke-width="1.4"/>
<rect x="440.5" y="346.6" width="8.4" height="8.4" fill="#fff" stroke="#000" stroke-width="1.4"/>
<rect x="472.1" y="372.1" width="8.4" height="8.4" fill="#fff" stroke="#000" stroke-width="1.4"/>
<rect x="503.6" y="383.2" width="8.4" height="8.4" fill="#fff" stroke="#000" stroke-width="1.4"/>
<polyline points="318.5,391.9 350.1,388.7 381.6,381.4 413.1,377.9 444.7,362.9 476.2,372.5 507.8,383.3" fill="none" stroke="#000" stroke-width="1.4"/>
<path d="M318.5 386.8L323.3 396.2L313.7 396.2Z" fill="#fff" stroke="#000" stroke-width="1.4"/>
<path d="M350.1 383.6L354.9 393.0L345.2 393.0Z" fill="#fff" stroke="#000" stroke-width="1.4"/>
<path d="M381.6 376.3L386.4 385.7L376.8 385.7Z" fill="#fff" stroke="#000" stroke-width="1.4"/>
<path d="M413.1 372.8L417.9 382.2L408.3 382.2Z" fill="#fff" stroke="#000" stroke-width="1.4"/>
<path d="M444.7 357.8L449.5 367.2L439.9 367.2Z" fill="#fff" stroke="#000" stroke-width="1.4"/>
<path d="M476.2 367.4L481.1 376.8L471.4 376.8Z" fill="#fff" stroke="#000" stroke-width="1.4"/>
<path d="M507.8 378.2L512.6 387.6L503.0 387.6Z" fill="#fff" stroke="#000" stroke-width="1.4"/>
<polyline points="318.5,388.7 350.1,386.2 381.6,357.2 413.1,346.4 444.7,343.5 476.2,374.7 507.8,388.4" fill="none" stroke="#000" stroke-width="1.4"/>
<circle cx="318.5" cy="388.7" r="4.6" fill="#000"/>
<circle cx="350.1" cy="386.2" r="4.6" fill="#000"/>
<circle cx="381.6" cy="357.2" r="4.6" fill="#000"/>
<circle cx="413.1" cy="346.4" r="4.6" fill="#000"/>
<circle cx="444.7" cy="343.5" r="4.6" fill="#000"/>
<circle cx="476.2" cy="374.7" r="4.6" fill="#000"/>
<circle cx="507.8" cy="388.4" r="4.6" fill="#000"/>
<polyline points="318.5,380.8 350.1,356.9 381.6,321.8 413.1,308.1 444.7,342.2 476.2,363.9 507.8,369.9" fill="none" stroke="#000" stroke-width="1.4"/>
<path d="M318.5 375.0L323.5 385.2L313.5 385.2Z" fill="#000"/>
<path d="M350.1 351.1L355.1 361.3L345.1 361.3Z" fill="#000"/>
<path d="M381.6 316.0L386.6 326.2L376.6 326.2Z" fill="#000"/>
<path d="M413.1 302.3L418.1 312.5L408.1 312.5Z" fill="#000"/>
<path d="M444.7 336.4L449.7 346.6L439.7 346.6Z" fill="#000"/>
<path d="M476.2 358.1L481.2 368.3L471.2 368.3Z" fill="#000"/>
<path d="M507.8 364.1L512.8 374.3L502.8 374.3Z" fill="#000"/>
<path d="M315.7 418.9V546.5H504.5" fill="none" stroke="#777" stroke-width="1"/>
<path d="M312.2 546.5H315.7" stroke="#777" stroke-width="1"/>
<text x="310.2" y="551.7" font-family="Liberation Sans, sans-serif" font-size="16.8" font-weight="bold" text-anchor="end" fill="#000">0</text>
<path d="M312.2 504.0H315.7" stroke="#777" stroke-width="1"/>
<text x="310.2" y="509.2" font-family="Liberation Sans, sans-serif" font-size="16.8" font-weight="bold" text-anchor="end" fill="#000">10</text>
<path d="M312.2 461.4H315.7" stroke="#777" stroke-width="1"/>
<text x="310.2" y="466.6" font-family="Liberation Sans, sans-serif" font-size="16.8" font-weight="bold" text-anchor="end" fill="#000">20</text>
<path d="M312.2 418.9H315.7" stroke="#777" stroke-width="1"/>
<text x="310.2" y="424.1" font-family="Liberation Sans, sans-serif" font-size="16.8" font-weight="bold" text-anchor="end" fill="#000">30</text>
<path d="M315.7 546.5v4" stroke="#777" stroke-width="1"/>
<path d="M347.2 546.5v4" stroke="#777" stroke-width="1"/>
<path d="M378.6 546.5v4" stroke="#777" stroke-width="1"/>
<path d="M410.1 546.5v4" stroke="#777" stroke-width="1"/>
<path d="M441.6 546.5v4" stroke="#777" stroke-width="1"/>
<path d="M473.0 546.5v4" stroke="#777" stroke-width="1"/>
<path d="M504.5 546.5v4" stroke="#777" stroke-width="1"/>
<text x="385" y="430.3" font-family="Liberation Sans, sans-serif" font-size="24.7" fill="#000">XLA-2</text>
<polyline points="315.7,546.5 347.2,546.5 378.6,546.5 410.1,545.2 441.6,546.5 473.0,546.5 504.5,546.5" fill="none" stroke="#000" stroke-width="1.4"/>
<rect x="312.7" y="543.5" width="6.0" height="6.0" fill="#000"/>
<rect x="344.2" y="543.5" width="6.0" height="6.0" fill="#000"/>
<rect x="375.6" y="543.5" width="6.0" height="6.0" fill="#000"/>
<rect x="407.1" y="542.2" width="6.0" height="6.0" fill="#000"/>
<rect x="438.6" y="543.5" width="6.0" height="6.0" fill="#000"/>
<rect x="470.0" y="543.5" width="6.0" height="6.0" fill="#000"/>
<rect x="501.5" y="543.5" width="6.0" height="6.0" fill="#000"/>
<polyline points="315.7,545.2 347.2,544.8 378.6,537.1 410.1,533.7 441.6,516.7 473.0,516.7 504.5,520.6" fill="none" stroke="#000" stroke-width="1.4"/>
<circle cx="315.7" cy="545.2" r="4.25" fill="#fff" stroke="#000" stroke-width="1.4"/>
<circle cx="347.2" cy="544.8" r="4.25" fill="#fff" stroke="#000" stroke-width="1.4"/>
<circle cx="378.6" cy="537.1" r="4.25" fill="#fff" stroke="#000" stroke-width="1.4"/>
<circle cx="410.1" cy="533.7" r="4.25" fill="#fff" stroke="#000" stroke-width="1.4"/>
<circle cx="441.6" cy="516.7" r="4.25" fill="#fff" stroke="#000" stroke-width="1.4"/>
<circle cx="473.0" cy="516.7" r="4.25" fill="#fff" stroke="#000" stroke-width="1.4"/>
<circle cx="504.5" cy="520.6" r="4.25" fill="#fff" stroke="#000" stroke-width="1.4"/>
<polyline points="315.7,541.8 347.2,538.4 378.6,514.2 410.1,488.2 441.6,456.8 473.0,456.8 504.5,422.3" fill="none" stroke="#000" stroke-width="1.4"/>
<rect x="311.5" y="537.6" width="8.4" height="8.4" fill="#fff" stroke="#000" stroke-width="1.4"/>
<rect x="343.0" y="534.2" width="8.4" height="8.4" fill="#fff" stroke="#000" stroke-width="1.4"/>
<rect x="374.4" y="510.0" width="8.4" height="8.4" fill="#fff" stroke="#000" stroke-width="1.4"/>
<rect x="405.9" y="484.0" width="8.4" height="8.4" fill="#fff" stroke="#000" stroke-width="1.4"/>
<rect x="437.4" y="452.6" width="8.4" height="8.4" fill="#fff" stroke="#000" stroke-width="1.4"/>
<rect x="468.8" y="452.6" width="8.4" height="8.4" fill="#fff" stroke="#000" stroke-width="1.4"/>
<rect x="500.3" y="418.1" width="8.4" height="8.4" fill="#fff" stroke="#000" stroke-width="1.4"/>
<polyline points="315.7,546.5 347.2,546.5 378.6,540.5 410.1,536.3 441.6,504.8 473.0,504.8 504.5,509.5" fill="none" stroke="#000" stroke-width="1.4"/>
<path d="M315.7 541.4L320.5 550.8L310.9 550.8Z" fill="#fff" stroke="#000" stroke-width="1.4"/>
<path d="M347.2 541.4L352.0 550.8L342.4 550.8Z" fill="#fff" stroke="#000" stroke-width="1.4"/>
<path d="M378.6 535.4L383.4 544.8L373.8 544.8Z" fill="#fff" stroke="#000" stroke-width="1.4"/>
<path d="M410.1 531.2L414.9 540.6L405.3 540.6Z" fill="#fff" stroke="#000" stroke-width="1.4"/>
<path d="M441.6 499.7L446.4 509.1L436.8 509.1Z" fill="#fff" stroke="#000" stroke-width="1.4"/>
<path d="M473.0 499.7L477.8 509.1L468.2 509.1Z" fill="#fff" stroke="#000" stroke-width="1.4"/>
<path d="M504.5 504.4L509.3 513.8L499.7 513.8Z" fill="#fff" stroke="#000" stroke-width="1.4"/>
<polyline points="315.7,544.4 347.2,544.4 378.6,534.2 410.1,530.3 441.6,520.1 473.0,520.1 504.5,517.2" fill="none" stroke="#000" stroke-width="1.4"/>
<circle cx="315.7" cy="544.4" r="4.6" fill="#000"/>
<circle cx="347.2" cy="544.4" r="4.6" fill="#000"/>
<circle cx="378.6" cy="534.2" r="4.6" fill="#000"/>
<circle cx="410.1" cy="530.3" r="4.6" fill="#000"/>
<circle cx="441.6" cy="520.1" r="4.6" fill="#000"/>
<circle cx="473.0" cy="520.1" r="4.6" fill="#000"/>
<circle cx="504.5" cy="517.2" r="4.6" fill="#000"/>
<polyline points="315.7,536.3 347.2,525.2 378.6,506.5 410.1,538.4 441.6,546.5 473.0,546.5 504.5,546.5" fill="none" stroke="#000" stroke-width="1.4"/>
<path d="M315.7 530.5L320.7 540.7L310.7 540.7Z" fill="#000"/>
<path d="M347.2 519.4L352.2 529.6L342.2 529.6Z" fill="#000"/>
<path d="M378.6 500.7L383.6 510.9L373.6 510.9Z" fill="#000"/>
<path d="M410.1 532.6L415.1 542.8L405.1 542.8Z" fill="#000"/>
<path d="M441.6 540.7L446.6 550.9L436.6 550.9Z" fill="#000"/>
<path d="M473.0 540.7L478.0 550.9L468.0 550.9Z" fill="#000"/>
<path d="M504.5 540.7L509.5 550.9L499.5 550.9Z" fill="#000"/>
<path d="M315.7 565.4V693.0H504.5" fill="none" stroke="#777" stroke-width="1"/>
<path d="M312.2 693.0H315.7" stroke="#777" stroke-width="1"/>
<text x="310.2" y="698.2" font-family="Liberation Sans, sans-serif" font-size="16.8" font-weight="bold" text-anchor="end" fill="#000">0</text>
<path d="M312.2 661.1H315.7" stroke="#777" stroke-width="1"/>
<text x="310.2" y="666.3" font-family="Liberation Sans, sans-serif" font-size="16.8" font-weight="bold" text-anchor="end" fill="#000">5</text>
<path d="M312.2 629.2H315.7" stroke="#777" stroke-width="1"/>
<text x="310.2" y="634.4" font-family="Liberation Sans, sans-serif" font-size="16.8" font-weight="bold" text-anchor="end" fill="#000">10</text>
<path d="M312.2 597.3H315.7" stroke="#777" stroke-width="1"/>
<text x="310.2" y="602.5" font-family="Liberation Sans, sans-serif" font-size="16.8" font-weight="bold" text-anchor="end" fill="#000">15</text>
<path d="M312.2 565.4H315.7" stroke="#777" stroke-width="1"/>
<text x="310.2" y="570.6" font-family="Liberation Sans, sans-serif" font-size="16.8" font-weight="bold" text-anchor="end" fill="#000">20</text>
<path d="M315.7 693.0v4" stroke="#777" stroke-width="1"/>
<text x="315.7" y="715" font-family="Liberation Sans, sans-serif" font-size="16.8" font-weight="bold" text-anchor="middle" fill="#000">3</text>
<path d="M347.2 693.0v4" stroke="#777" stroke-width="1"/>
<text x="347.2" y="715" font-family="Liberation Sans, sans-serif" font-size="16.8" font-weight="bold" text-anchor="middle" fill="#000">4</text>
<path d="M378.6 693.0v4" stroke="#777" stroke-width="1"/>
<text x="378.6" y="715" font-family="Liberation Sans, sans-serif" font-size="16.8" font-weight="bold" text-anchor="middle" fill="#000">5</text>
<path d="M410.1 693.0v4" stroke="#777" stroke-width="1"/>
<text x="410.1" y="715" font-family="Liberation Sans, sans-serif" font-size="16.8" font-weight="bold" text-anchor="middle" fill="#000">6</text>
<path d="M441.6 693.0v4" stroke="#777" stroke-width="1"/>
<text x="441.6" y="715" font-family="Liberation Sans, sans-serif" font-size="16.8" font-weight="bold" text-anchor="middle" fill="#000">7</text>
<path d="M473.0 693.0v4" stroke="#777" stroke-width="1"/>
<text x="473.0" y="715" font-family="Liberation Sans, sans-serif" font-size="16.8" font-weight="bold" text-anchor="middle" fill="#000">8</text>
<path d="M504.5 693.0v4" stroke="#777" stroke-width="1"/>
<text x="504.5" y="715" font-family="Liberation Sans, sans-serif" font-size="16.8" font-weight="bold" text-anchor="middle" fill="#000">9</text>
<text x="385" y="583.3" font-family="Liberation Sans, sans-serif" font-size="24.7" fill="#000">XLA-5</text>
<polyline points="315.7,692.4 347.2,692.4 378.6,692.4 410.1,691.7 441.6,691.1 473.0,690.4 504.5,687.9" fill="none" stroke="#000" stroke-width="1.4"/>
<rect x="312.7" y="689.4" width="6.0" height="6.0" fill="#000"/>
<rect x="344.2" y="689.4" width="6.0" height="6.0" fill="#000"/>
<rect x="375.6" y="689.4" width="6.0" height="6.0" fill="#000"/>
<rect x="407.1" y="688.7" width="6.0" height="6.0" fill="#000"/>
<rect x="438.6" y="688.1" width="6.0" height="6.0" fill="#000"/>
<rect x="470.0" y="687.4" width="6.0" height="6.0" fill="#000"/>
<rect x="501.5" y="684.9" width="6.0" height="6.0" fill="#000"/>
<polyline points="315.7,690.4 347.2,688.5 378.6,685.3 410.1,666.8 441.6,629.8 473.0,630.5 504.5,668.8" fill="none" stroke="#000" stroke-width="1.4"/>
<circle cx="315.7" cy="690.4" r="4.25" fill="#fff" stroke="#000" stroke-width="1.4"/>
<circle cx="347.2" cy="688.5" r="4.25" fill="#fff" stroke="#000" stroke-width="1.4"/>
<circle cx="378.6" cy="685.3" r="4.25" fill="#fff" stroke="#000" stroke-width="1.4"/>
<circle cx="410.1" cy="666.8" r="4.25" fill="#fff" stroke="#000" stroke-width="1.4"/>
<circle cx="441.6" cy="629.8" r="4.25" fill="#fff" stroke="#000" stroke-width="1.4"/>
<circle cx="473.0" cy="630.5" r="4.25" fill="#fff" stroke="#000" stroke-width="1.4"/>
<circle cx="504.5" cy="668.8" r="4.25" fill="#fff" stroke="#000" stroke-width="1.4"/>
<polyline points="315.7,692.4 347.2,692.4 378.6,691.1 410.1,687.9 441.6,681.2 473.0,675.1 504.5,677.0" fill="none" stroke="#000" stroke-width="1.4"/>
<rect x="311.5" y="688.2" width="8.4" height="8.4" fill="#fff" stroke="#000" stroke-width="1.4"/>
<rect x="343.0" y="688.2" width="8.4" height="8.4" fill="#fff" stroke="#000" stroke-width="1.4"/>
<rect x="374.4" y="686.9" width="8.4" height="8.4" fill="#fff" stroke="#000" stroke-width="1.4"/>
<rect x="405.9" y="683.7" width="8.4" height="8.4" fill="#fff" stroke="#000" stroke-width="1.4"/>
<rect x="437.4" y="677.0" width="8.4" height="8.4" fill="#fff" stroke="#000" stroke-width="1.4"/>
<rect x="468.8" y="670.9" width="8.4" height="8.4" fill="#fff" stroke="#000" stroke-width="1.4"/>
<rect x="500.3" y="672.8" width="8.4" height="8.4" fill="#fff" stroke="#000" stroke-width="1.4"/>
<polyline points="315.7,692.4 347.2,691.7 378.6,684.7 410.1,680.9 441.6,644.5 473.0,619.6 504.5,671.3" fill="none" stroke="#000" stroke-width="1.4"/>
<path d="M315.7 687.3L320.5 696.7L310.9 696.7Z" fill="#fff" stroke="#000" stroke-width="1.4"/>
<path d="M347.2 686.6L352.0 696.0L342.4 696.0Z" fill="#fff" stroke="#000" stroke-width="1.4"/>
<path d="M378.6 679.6L383.4 689.0L373.8 689.0Z" fill="#fff" stroke="#000" stroke-width="1.4"/>
<path d="M410.1 675.8L414.9 685.2L405.3 685.2Z" fill="#fff" stroke="#000" stroke-width="1.4"/>
<path d="M441.6 639.4L446.4 648.8L436.8 648.8Z" fill="#fff" stroke="#000" stroke-width="1.4"/>
<path d="M473.0 614.5L477.8 623.9L468.2 623.9Z" fill="#fff" stroke="#000" stroke-width="1.4"/>
<path d="M504.5 666.2L509.3 675.6L499.7 675.6Z" fill="#fff" stroke="#000" stroke-width="1.4"/>
<polyline points="315.7,690.4 347.2,687.9 378.6,687.9 410.1,674.5 441.6,668.8 473.0,656.0 504.5,659.2" fill="none" stroke="#000" stroke-width="1.4"/>
<circle cx="315.7" cy="690.4" r="4.6" fill="#000"/>
<circle cx="347.2" cy="687.9" r="4.6" fill="#000"/>
<circle cx="378.6" cy="687.9" r="4.6" fill="#000"/>
<circle cx="410.1" cy="674.5" r="4.6" fill="#000"/>
<circle cx="441.6" cy="668.8" r="4.6" fill="#000"/>
<circle cx="473.0" cy="656.0" r="4.6" fill="#000"/>
<circle cx="504.5" cy="659.2" r="4.6" fill="#000"/>
<polyline points="315.7,687.3 347.2,682.2 378.6,671.9 410.1,634.3 441.6,661.1 473.0,669.4 504.5,685.3" fill="none" stroke="#000" stroke-width="1.4"/>
<path d="M315.7 681.5L320.7 691.7L310.7 691.7Z" fill="#000"/>
<path d="M347.2 676.4L352.2 686.6L342.2 686.6Z" fill="#000"/>
<path d="M378.6 666.1L383.6 676.3L373.6 676.3Z" fill="#000"/>
<path d="M410.1 628.5L415.1 638.7L405.1 638.7Z" fill="#000"/>
<path d="M441.6 655.3L446.6 665.5L436.6 665.5Z" fill="#000"/>
<path d="M473.0 663.6L478.0 673.8L468.0 673.8Z" fill="#000"/>
<path d="M504.5 679.5L509.5 689.7L499.5 689.7Z" fill="#000"/>
<path d="M51.4 108V737.3H505" fill="none" stroke="#000" stroke-width="3"/>
<path d="M51.3 95.3L58.7 109.6H43.9Z" fill="#000"/>
<path d="M519 737.4L503.6 745V729.8Z" fill="#000"/>
<text x="141.0" y="774.7" font-family="Liberation Sans, sans-serif" font-size="29.4" fill="#000">Culture Time<tspan dx="9.2">(Days)</tspan></text>
<text transform="translate(24.4 653.6) rotate(-90)" font-family="Liberation Sans, sans-serif" font-size="29.5" fill="#000"><tspan font-size="18.6" dy="-9">3</tspan><tspan dy="9">HTdR Incorporation</tspan><tspan dx="6.2">(ccpm</tspan><tspan dx="8.9">x</tspan><tspan dx="9.2">10</tspan><tspan font-size="18.6" dy="-9" dx="0.9">-3</tspan><tspan dy="9" dx="0.9">)</tspan></text>
<path d="M49 14H92.5" stroke="#000" stroke-width="3.0"/>
<rect x="62.2" y="5.5" width="16" height="16" fill="#000"/>
<text x="97.7" y="21.2" font-family="Liberation Sans, sans-serif" font-size="23" fill="#000">Media</text>
<path d="M49 48.5H92" stroke="#000" stroke-width="3.0"/>
<circle cx="70.2" cy="48.2" r="7.7" fill="#fff" stroke="#000" stroke-width="3.0"/>
<text x="97.7" y="55.8" font-family="Liberation Sans, sans-serif" font-size="23" fill="#000">H44/76</text>
<path d="M180.3 13.8H223.1" stroke="#000" stroke-width="3.0"/>
<rect x="193.39999999999998" y="5.6" width="15.6" height="16" fill="#fff" stroke="#000" stroke-width="3.0"/>
<text x="228.8" y="21.2" font-family="Liberation Sans, sans-serif" font-size="23" textLength="42" lengthAdjust="spacingAndGlyphs" fill="#000">TR4</text>
<path d="M180.3 47.8H223.1" stroke="#000" stroke-width="3.0"/>
<path d="M201.9 40.2L209.8 56.2H194.0Z" fill="#fff" stroke="#000" stroke-width="3.0" stroke-linejoin="miter"/>
<text x="228.8" y="55.8" font-family="Liberation Sans, sans-serif" font-size="23" fill="#000">TR10</text>
<path d="M308.1 11.2H351.9" stroke="#000" stroke-width="3.0"/>
<circle cx="329.4" cy="10.8" r="7.9" fill="#000"/>
<text x="356.8" y="19.2" font-family="Liberation Sans, sans-serif" font-size="23" textLength="63" lengthAdjust="spacingAndGlyphs" fill="#000">PorA-</text>
<path d="M308.1 44.6H351.9" stroke="#000" stroke-width="3.0"/>
<path d="M330.2 35.199999999999996L338.9 44.8L330.2 54.4L321.5 44.8Z" fill="#fff" stroke="#000" stroke-width="3.0"/>
<text x="357" y="52.2" font-family="Liberation Sans, sans-serif" font-size="23" fill="#000">LpxA-</text>
<path d="M431.9 47.7H475.4" stroke="#000" stroke-width="3.0"/>
<path d="M453.6 38.7L462.40000000000003 56.6H444.8Z" fill="#000"/>
<text x="481.2" y="55.1" font-family="Liberation Sans, sans-serif" font-size="23" fill="#000">Flu</text>
</svg>
</body></html>
